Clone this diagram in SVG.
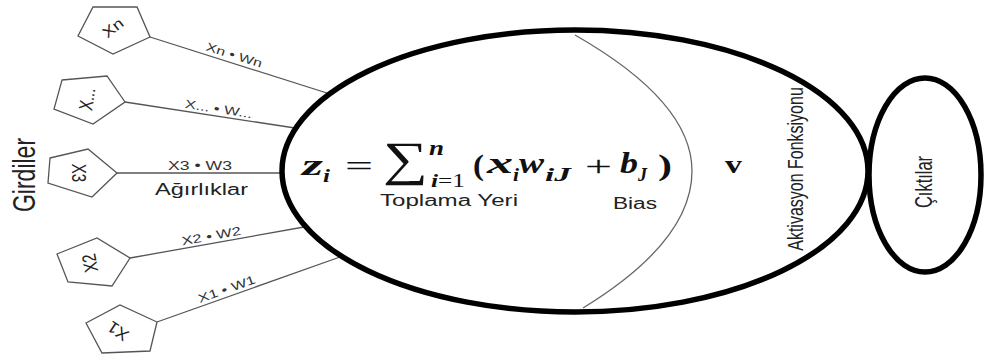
<svg xmlns="http://www.w3.org/2000/svg" width="984" height="359" viewBox="0 0 984 359">
<style>
.pent{fill:#fff;stroke:#555;stroke-width:1.3}
.plab{font-family:"Liberation Sans",Arial,sans-serif;font-size:15px;fill:#222;text-anchor:middle;dominant-baseline:central}
.conn{stroke:#555;stroke-width:1.3;fill:none}
.wlab{font-family:"Liberation Sans",Arial,sans-serif;font-size:12px;fill:#333;text-anchor:middle}
.lab{font-family:"Liberation Sans",Arial,sans-serif;fill:#222}
.big{fill:#fff;stroke:#000;stroke-width:5.5}
.arc{fill:none;stroke:#666;stroke-width:1.3}
.m{font-family:"Liberation Serif","Times New Roman",serif;font-style:italic;font-weight:bold;fill:#111;font-size:30px}
.ms{font-family:"Liberation Serif","Times New Roman",serif;font-style:italic;font-weight:bold;fill:#111;font-size:18px}
.mn{font-family:"Liberation Serif","Times New Roman",serif;fill:#111;font-size:30px}
</style>

<g id="connectors">
<line class="conn" x1="150" y1="37" x2="330" y2="94"/>
<line class="conn" x1="125" y1="102" x2="295" y2="128"/>
<line class="conn" x1="117" y1="173" x2="284" y2="173"/>
<line class="conn" x1="130" y1="258" x2="304" y2="227"/>
<line class="conn" x1="157" y1="322" x2="340" y2="257"/>
<text class="wlab" transform="translate(233,59) rotate(17.6)" textLength="58" lengthAdjust="spacingAndGlyphs">Xn • Wn</text>
<text class="wlab" transform="translate(218,113) rotate(8.8)" textLength="68" lengthAdjust="spacingAndGlyphs">X... • W...</text>
<text class="wlab" x="200" y="170" textLength="64" lengthAdjust="spacingAndGlyphs">X3 • W3</text>
<text class="wlab" transform="translate(212,240) rotate(-10.3)" textLength="60" lengthAdjust="spacingAndGlyphs">X2 • W2</text>
<text class="wlab" transform="translate(228,293) rotate(-19.6)" textLength="60" lengthAdjust="spacingAndGlyphs">X1 • W1</text>
<text class="lab" x="201.5" y="195" font-size="16" text-anchor="middle" textLength="93" lengthAdjust="spacingAndGlyphs">Ağırlıklar</text>
</g>

<g id="girdiler">
<text class="lab" font-size="23" text-anchor="middle" transform="translate(35,175) rotate(-90) scale(1,1.4)">Girdiler</text>
</g>

<g id="xn">
<polygon class="pent" points="93,7 137,7 150,37 113,54 78,36"/>
<text class="plab" transform="translate(113,28) rotate(-39) scale(1.2,1)">Xn</text>
</g>
<g id="xdots">
<polygon class="pent" points="62,80 107,76 125,102 93,124 54,109"/>
<text class="plab" transform="translate(87,99) rotate(-81) scale(1,1.3)">X...</text>
</g>
<g id="x3">
<polygon class="pent" points="50,158 88,149 117,173 92,197 48,183"/>
<text class="plab" transform="translate(79,173) rotate(90) scale(1,1.3)">X3</text>
</g>
<g id="x2">
<polygon class="pent" points="57,254 97,238 130,258 112,286 68,282"/>
<text class="plab" transform="translate(90,263) rotate(-101) scale(1,1.3)">X2</text>
</g>
<g id="x1">
<polygon class="pent" points="86,323 120,305 157,322 150,351 102,353"/>
<text class="plab" transform="translate(118,331) rotate(214) scale(1.2,1.1)">X1</text>
</g>

<g id="neuron">
<ellipse class="big" cx="575" cy="171" rx="293" ry="141"/>
<path class="arc" d="M575,35 C645,75 692,120 692,171 C692,225 645,270 583,308"/>
<text class="m" x="302" y="175" textLength="21" lengthAdjust="spacingAndGlyphs">z</text>
<text class="ms" x="323" y="182" textLength="7" lengthAdjust="spacingAndGlyphs">i</text>
<text class="mn" x="345" y="176" textLength="28" lengthAdjust="spacingAndGlyphs">=</text>
<text class="mn" x="383" y="175" style="font-size:48px" textLength="45" lengthAdjust="spacingAndGlyphs">∑</text>
<text class="ms" x="429" y="155" style="font-size:20px" textLength="15" lengthAdjust="spacingAndGlyphs">n</text>
<text class="ms" x="431" y="187" textLength="34" lengthAdjust="spacingAndGlyphs">i<tspan style="font-style:normal;font-weight:normal">=1</tspan></text>
<text class="m" style="font-style:normal" x="473" y="175" textLength="11" lengthAdjust="spacingAndGlyphs">(</text>
<text class="m" x="487" y="173" textLength="26" lengthAdjust="spacingAndGlyphs">x</text>
<text class="ms" x="513" y="181" textLength="6" lengthAdjust="spacingAndGlyphs">i</text>
<text class="m" x="519" y="173" textLength="25" lengthAdjust="spacingAndGlyphs">w</text>
<text class="ms" x="545" y="181" textLength="26" lengthAdjust="spacingAndGlyphs">iJ</text>
<text class="mn" x="585" y="176" textLength="27" lengthAdjust="spacingAndGlyphs">+</text>
<text class="m" x="620" y="173" textLength="18" lengthAdjust="spacingAndGlyphs">b</text>
<text class="ms" x="638" y="181" textLength="9" lengthAdjust="spacingAndGlyphs">J</text>
<text class="m" style="font-style:normal" x="658" y="175" textLength="14" lengthAdjust="spacingAndGlyphs">)</text>
<text class="lab" x="380" y="206" font-size="16" textLength="138" lengthAdjust="spacingAndGlyphs">Toplama Yeri</text>
<text class="lab" x="613" y="209" font-size="16" textLength="44" lengthAdjust="spacingAndGlyphs">Bias</text>
<text x="725" y="173" font-family="Liberation Serif,serif" font-weight="bold" font-size="26" fill="#111" textLength="17" lengthAdjust="spacingAndGlyphs">v</text>
<text class="lab" font-size="16" text-anchor="middle" transform="translate(803,169) rotate(-90) scale(1,1.4)">Aktivasyon Fonksiyonu</text>
</g>

<g id="ciktilar">
<ellipse class="big" cx="925" cy="175" rx="56" ry="97"/>
<text class="lab" font-size="16.5" text-anchor="middle" transform="translate(932,182) rotate(-90) scale(1,1.4)">Çıktılar</text>
</g>
</svg>
